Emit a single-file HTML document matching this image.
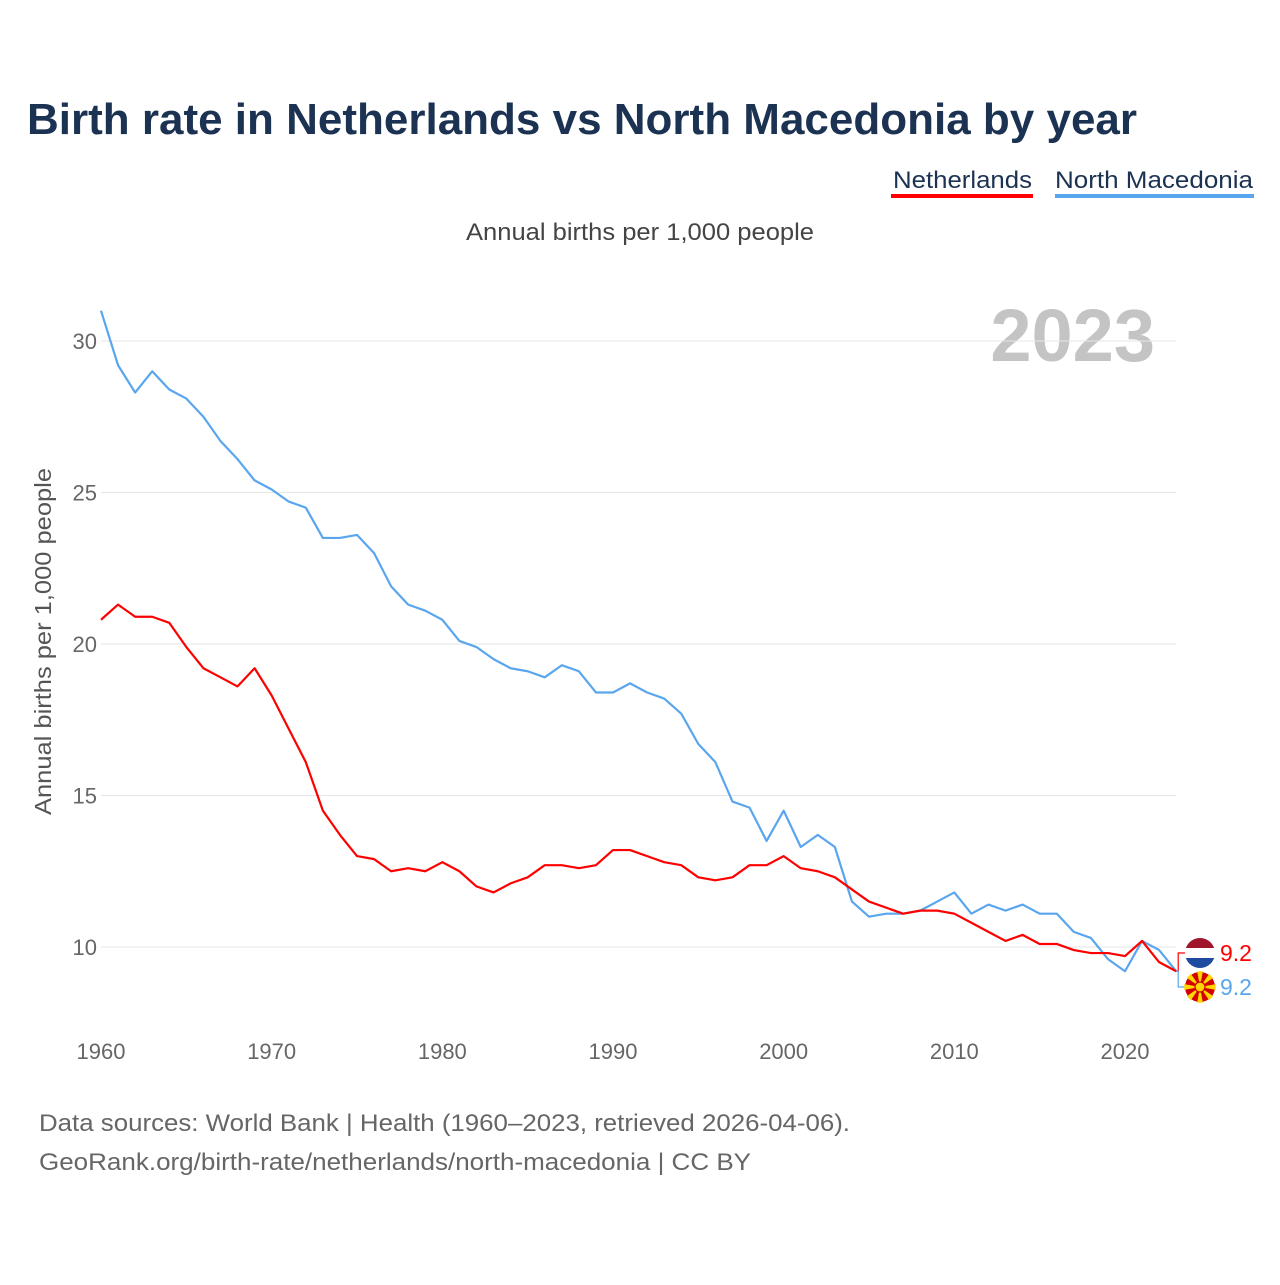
<!DOCTYPE html>
<html><head><meta charset="utf-8">
<style>
body{margin:0;background:#fff;}
svg text{font-family:"Liberation Sans",sans-serif;}
</style></head>
<body>
<svg id="chart" width="1280" height="1280" viewBox="0 0 1280 1280" xmlns="http://www.w3.org/2000/svg">
<rect width="1280" height="1280" fill="#fff"/>
<text x="27" y="134" font-size="44" font-weight="bold" fill="#1b3252" textLength="1110" lengthAdjust="spacingAndGlyphs">Birth rate in Netherlands vs North Macedonia by year</text>
<g>
<text x="893" y="188" font-size="24" fill="#1b3252" textLength="139" lengthAdjust="spacingAndGlyphs">Netherlands</text>
<rect x="891" y="194" width="142" height="4" fill="#ff0000"/>
</g>
<g>
<text x="1055" y="188" font-size="24" fill="#1b3252" textLength="198" lengthAdjust="spacingAndGlyphs">North Macedonia</text>
<rect x="1055" y="194" width="199" height="4" fill="#5aa6ee"/>
</g>
<text x="466" y="240" font-size="24" fill="#444" textLength="348" lengthAdjust="spacingAndGlyphs">Annual births per 1,000 people</text>
<text x="1155" y="361" font-size="74" font-weight="bold" text-anchor="end" fill="#c4c4c4">2023</text>
<text transform="translate(51,815) rotate(-90)" font-size="23" fill="#555" textLength="347" lengthAdjust="spacingAndGlyphs">Annual births per 1,000 people</text>
<g id="grid"></g><g id="xt"></g><g id="lines"></g><g id="ends"></g>
<text x="39" y="1131" font-size="24" fill="#666" textLength="811" lengthAdjust="spacingAndGlyphs">Data sources: World Bank | Health (1960–2023, retrieved 2026-04-06).</text>
<text x="39" y="1170" font-size="24" fill="#666" textLength="712" lengthAdjust="spacingAndGlyphs">GeoRank.org/birth-rate/netherlands/north-macedonia | CC BY</text>
</svg>
<script>
const years=[];for(let y=1960;y<=2023;y++)years.push(y);
const netherlands=[20.8,21.3,20.9,20.9,20.7,19.9,19.2,18.9,18.6,19.2,18.3,17.2,16.1,14.5,13.7,13.0,12.9,12.5,12.6,12.5,12.8,12.5,12.0,11.8,12.1,12.3,12.7,12.7,12.6,12.7,13.2,13.2,13.0,12.8,12.7,12.3,12.2,12.3,12.7,12.7,13.0,12.6,12.5,12.3,11.9,11.5,11.3,11.1,11.2,11.2,11.1,10.8,10.5,10.2,10.4,10.1,10.1,9.9,9.8,9.8,9.7,10.2,9.5,9.2];
const northMacedonia=[31.0,29.2,28.3,29.0,28.4,28.1,27.5,26.7,26.1,25.4,25.1,24.7,24.5,23.5,23.5,23.6,23.0,21.9,21.3,21.1,20.8,20.1,19.9,19.5,19.2,19.1,18.9,19.3,19.1,18.4,18.4,18.7,18.4,18.2,17.7,16.7,16.1,14.8,14.6,13.5,14.5,13.3,13.7,13.3,11.5,11.0,11.1,11.1,11.2,11.5,11.8,11.1,11.4,11.2,11.4,11.1,11.1,10.5,10.3,9.6,9.2,10.2,9.9,9.2];
const yTicks=[10,15,20,25,30];
const xTicks=[1960,1970,1980,1990,2000,2010,2020];
const NS="http://www.w3.org/2000/svg";
const x=v=>101+(v-1960)*(1125-101)/60;
const y=v=>947-(v-10)*(947-341)/20;
function el(t,a,p){const e=document.createElementNS(NS,t);for(const k in a)e.setAttribute(k,a[k]);p.appendChild(e);return e;}
const grid=document.getElementById('grid');
yTicks.forEach(t=>{
 const l=el('line',{x1:101,x2:1176,y1:y(t),y2:y(t),stroke:'#e6e6e6','stroke-width':1},grid);
 
 
 const tx=el('text',{x:97,y:y(t)+8,'font-size':22,'text-anchor':'end',fill:'#666'},grid);tx.textContent=t;
 
 
});
const xt=document.getElementById('xt');
xTicks.forEach(t=>{
 const tx=el('text',{x:x(t),y:1059,'font-size':22,'text-anchor':'middle',fill:'#666'},xt);tx.textContent=t;
 
 
});
const lines=document.getElementById('lines');
function line(data,color,name){
 const p=el('polyline',{points:data.map((v,i)=>x(years[i])+','+y(v)).join(' '),fill:'none',stroke:color,'stroke-width':2.2,'stroke-linejoin':'round'},lines);
 
 
}
line(northMacedonia,'#5aa6ee','line-north-macedonia');
line(netherlands,'#ff0000','line-netherlands');
const ends=document.getElementById('ends');
const lx=x(2023);
const nlE=y(netherlands[63]),nmE=y(northMacedonia[63]);
const b1=el('polyline',{points:`${lx},${nlE} ${lx+2},${nlE} ${lx+2},953 ${lx+10},953`,fill:'none',stroke:'#ff0000','stroke-width':1.2},ends);


const b2=el('polyline',{points:`${lx},${nmE} ${lx+2},${nmE} ${lx+2},987 ${lx+10},987`,fill:'none',stroke:'#5aa6ee','stroke-width':1.2},ends);


const nl=el('g',{},ends);


el('clipPath',{id:'c1'},nl).appendChild(document.createElementNS(NS,'circle'));
const c1=document.querySelector('#c1 circle');c1.setAttribute('cx',1200);c1.setAttribute('cy',953);c1.setAttribute('r',15);
el('rect',{x:1185,y:938,width:30,height:10,fill:'#a0152b','clip-path':'url(#c1)'},nl);
el('rect',{x:1185,y:948,width:30,height:10,fill:'#fff','clip-path':'url(#c1)'},nl);
el('rect',{x:1185,y:958,width:30,height:10,fill:'#1e4aa0','clip-path':'url(#c1)'},nl);
const nm=el('g',{},ends);


el('circle',{cx:1200,cy:987,r:15,fill:'#d20000'},nm);
for(let k=0;k<8;k++){const a=k*Math.PI/4,w=0.18;
 el('polygon',{points:`1200,987 ${1200+16*Math.cos(a-w)},${987+16*Math.sin(a-w)} ${1200+16*Math.cos(a+w)},${987+16*Math.sin(a+w)}`,fill:'#ffd600'},nm);}
el('circle',{cx:1200,cy:987,r:5,fill:'#ffd600',stroke:'#d20000','stroke-width':1.2},nm);
const t1=el('text',{x:1220,y:961,'font-size':23,fill:'#ff0000'},ends);t1.textContent=netherlands[63].toFixed(1);


const t2=el('text',{x:1220,y:995,'font-size':23,fill:'#5aa6ee'},ends);t2.textContent=northMacedonia[63].toFixed(1);


</script>
</body></html>
